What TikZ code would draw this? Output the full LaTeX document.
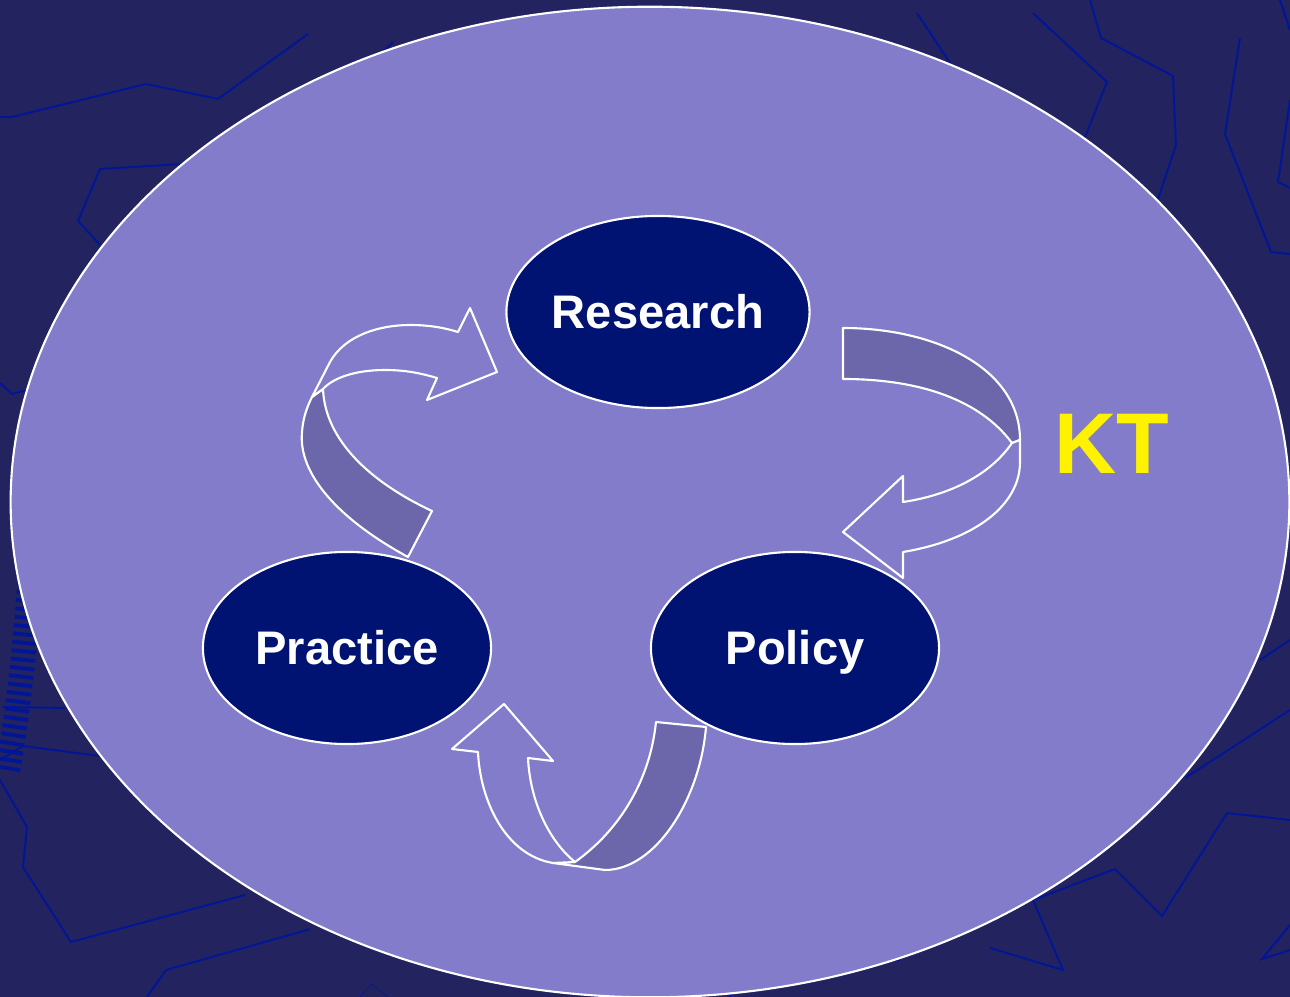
\documentclass[tikz,border=0pt]{standalone}
\usepackage{fontspec}
\setmainfont{Liberation Sans}
\usetikzlibrary{shapes.geometric,positioning}
\definecolor{slidebg}{RGB}{35,35,96}
\definecolor{zigzag}{RGB}{0,22,150}
\definecolor{lilac}{RGB}{130,124,203}
\definecolor{navy}{RGB}{0,18,114}
\definecolor{shade}{RGB}{108,102,170}

\begin{document}
\begin{tikzpicture}
		[x=0.01cm,y=-0.01cm,
		topic/.style ={ellipse, draw=white, line width=0.6pt, fill=navy, text=white, inner sep=0pt,
		minimum width=2.88cm, minimum height=1.92cm, text height=9.6pt, text depth=0pt,
		font=\fontsize{13.4}{16}\selectfont\bfseries},
		ribbon/.style ={draw=white, line width=0.6pt, fill=lilac, line join=round},
		back/.style ={draw=white, line width=0.6pt, fill=shade, line join=round},
		bgline/.style ={draw=zigzag, line width=0.55pt, line join=miter},
		]

		\useasboundingbox (0,0) rectangle (1290,997);
		\fill[slidebg] (0,0) rectangle (1290,997);

		% background lines
		\draw[bgline] (0,117) -- (12,117) -- (146,84) -- (218,99) -- (308,34);
		\draw[bgline] (182,164) -- (100,169) -- (78,221) -- (100,245);
		\draw[bgline] (393,42) -- (380,55);
		\draw[bgline] (0,383) -- (12,394) -- (27,390);
		\draw[bgline] (917,13) -- (950,63);
		\draw[bgline] (1033,13) -- (1107,82) -- (1085,137);
		\draw[bgline] (1090,0) -- (1101,38) -- (1173,76) -- (1176,145) -- (1158,199);
		\draw[bgline] (1240,38) -- (1225,134) -- (1271,252) -- (1290,254);
		\draw[bgline] (1280,0) -- (1290,30);
		\draw[bgline] (1290,100) -- (1278,182) -- (1290,188);
		\draw[bgline] (1260,660) -- (1290,640);
		\draw[bgline] (1185,778) -- (1290,710);
		\draw[bgline] (1033,900) -- (1115,869) -- (1162,916) -- (1227,813) -- (1290,820);
		\draw[bgline] (1033,900) -- (1063,970) -- (990,948);
		\draw[bgline] (1290,925) -- (1262,959) -- (1290,950);
		\draw[bgline] (730,997) -- (732,978) -- (750,962);
		\draw[bgline] (790,940) -- (823,952) -- (900,960);
		\draw[bgline] (3,707) -- (65,708);
		\draw[bgline] (0,760) -- (23,746) -- (100,756);
		\draw[bgline] (0,780) -- (27,827) -- (23,867) -- (71,942) -- (245,895);
		\draw[bgline] (147,997) -- (166,970) -- (300,932) -- (310,929);
		\draw[bgline, line width=0.15pt] (360,997) -- (372,984) -- (388,997);
		\draw[zigzag, line width=7pt, dash pattern=on 1.1pt off 1.3pt] (32,540) .. controls (28,620) and (20,700) .. (8,770);

		% big ellipse
		\draw[draw=white, line width=0.6pt, fill=lilac] (650,502) ellipse [x radius=6.39cm, y radius=4.95cm];

		% curved arrows
		\draw[back] (843,328) .. controls (935,328) and (1020,368) .. (1020,440) -- (1012,443)
			.. controls (980,400) and (920,379) .. (843,379) -- cycle;
		\draw[ribbon] (1012,443) .. controls (990,475) and (950,495) .. (903,502) -- (903,476) -- (843,532)
			-- (903,578) -- (903,552) .. controls (975,540) and (1020,505) .. (1020,462) -- (1020,440) -- cycle;

		\draw[back] (408,557) .. controls (340,520) and (298,475) .. (302,432) .. controls (303,418) and (307,407) .. (312,397)
			-- (323,389) .. controls (325,440) and (370,482) .. (432,511) -- cycle;
		\draw[ribbon] (312,397) -- (330,362) .. controls (345,335) and (380,325) .. (410,325)
			.. controls (430,325) and (445,328) .. (458,332) -- (470,308) -- (497,372) -- (427,400) -- (437,378)
			.. controls (420,373) and (405,370) .. (385,370) .. controls (355,370) and (333,378) .. (323,389) -- cycle;

		\draw[back] (656,722) -- (706,727) .. controls (700,800) and (655,870) .. (605,870) -- (553,863)
			-- (575,862) .. controls (620,830) and (650,780) .. (656,722) -- cycle;
		\draw[ribbon] (553,863) .. controls (505,855) and (480,800) .. (478,752) -- (452,749) -- (504,704)
			-- (553,761) -- (528,758) .. controls (530,800) and (548,840) .. (575,862) -- cycle;

		% topics
		\node[topic, minimum width=3.03cm] (research) at (658,312) {Research};
		\node[topic] (practice) at (347,648) {Practice};
		\node[topic] (policy) at (795,648) {Policy};

		\node[text=yellow, text height=17.5pt, text depth=0pt, font=\fontsize{24.5}{29}\selectfont\bfseries] (kt) at (1112,443) {KT};
	\end{tikzpicture}
\end{document}
